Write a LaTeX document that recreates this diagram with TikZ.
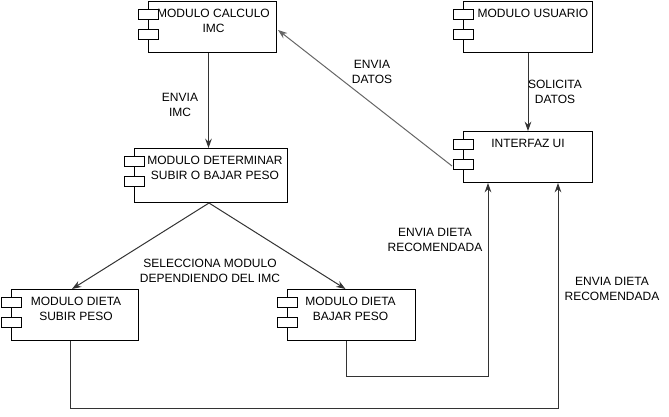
\documentclass[tikz,border=0pt]{standalone}
\usepackage{fontspec}
\setmainfont{Liberation Sans}
\usepackage{tikz}
\usetikzlibrary{arrows.meta, positioning}

\tikzset{
  comp/.style={draw, line width=0.75pt, anchor=north west, inner sep=0pt},
  comptext/.style={anchor=north, align=center, inner sep=1pt, font=\fontsize{9}{11}\selectfont},
  jetty/.style={draw, line width=0.75pt, fill=white},
  conn/.style={draw=black!80, line width=0.75pt, -{Stealth[length=7pt,width=5pt]}},
  lbl/.style={align=center, inner sep=0pt, font=\fontsize{9}{11.2}\selectfont}
}

\begin{document}
\begin{tikzpicture}[x=0.75pt, y=-0.75pt]
\useasboundingbox (0,0) rectangle (669,417);

% Components
\node[comp, minimum width={128*0.75pt}, minimum height={51*0.75pt}] (calc) at (148,1) {};
\node[comp, minimum width={129*0.75pt}, minimum height={51*0.75pt}] (user) at (463,1) {};
\node[comp, minimum width={153*0.75pt}, minimum height={54*0.75pt}] (det) at (134,148) {};
\node[comp, minimum width={129*0.75pt}, minimum height={51*0.75pt}] (ui) at (463,131) {};
\node[comp, minimum width={127*0.75pt}, minimum height={51*0.75pt}] (up) at (11,289) {};
\node[comp, minimum width={128*0.75pt}, minimum height={51*0.75pt}] (down) at (287,289) {};

% Jetties of the components
\foreach \n in {calc,user,det,ui,up,down} {
  \draw[jetty] ([shift={(-10,9)}]\n.north west) rectangle ++(20,10);
  \draw[jetty] ([shift={(-10,29)}]\n.north west) rectangle ++(20,10);
}

% Component texts
\node[comptext] (calctxt) at ([shift={(1,7)}]calc.north) {MODULO CALCULO\\IMC};
\node[comptext] (usertxt) at ([shift={(5,7)}]user.north) {MODULO USUARIO};
\node[comptext] (dettxt) at ([shift={(4,7)}]det.north) {MODULO DETERMINAR\\SUBIR O BAJAR PESO};
\node[comptext] (uitxt) at ([shift={(0,7)}]ui.north) {INTERFAZ UI};
\node[comptext] (uptxt) at ([shift={(1,7)}]up.north) {MODULO DIETA\\SUBIR PESO};
\node[comptext] (downtxt) at ([shift={(-1,7)}]down.north) {MODULO DIETA\\BAJAR PESO};

% Connectors
\draw[conn] ([xshift=-3pt]calc.south) -- ([xshift=-3pt]calc.south |- det.north);
\draw[conn] (user.south) -- (ui.north);
\draw[conn, draw=black!60] ([shift={(-11,9)}]ui.west) -- ([shift={(1,3)}]calc.east);
\draw[conn] ([shift={(-2,0)}]det.south) -- ([shift={(-3,0)}]up.north);
\draw[conn] ([shift={(-2,0)}]det.south) -- ([shift={(-6,0)}]down.north);
\draw[conn] ([shift={(-5,0)}]down.south) -- ++(0,36) -| ([shift={(-40,0)}]ui.south);
\draw[conn] ([shift={(-5,0)}]up.south) -- ++(0,68) -| ([shift={(30,0)}]ui.south);

% Connector labels
\node[lbl] (imclbl) at (180,105) {ENVIA\\IMC};
\node[lbl] (solicitalbl) at (555,92) {SOLICITA\\DATOS};
\node[lbl] (datoslbl) at (372,72) {ENVIA\\DATOS};
\node[lbl] (selecclbl) at (210,271) {SELECCIONA MODULO\\DEPENDIENDO DEL IMC};
\node[lbl] (dieta1lbl) at (435,240) {ENVIA DIETA\\RECOMENDADA};
\node[lbl] (dieta2lbl) at (612,289) {ENVIA DIETA\\RECOMENDADA};
\end{tikzpicture}
\end{document}
